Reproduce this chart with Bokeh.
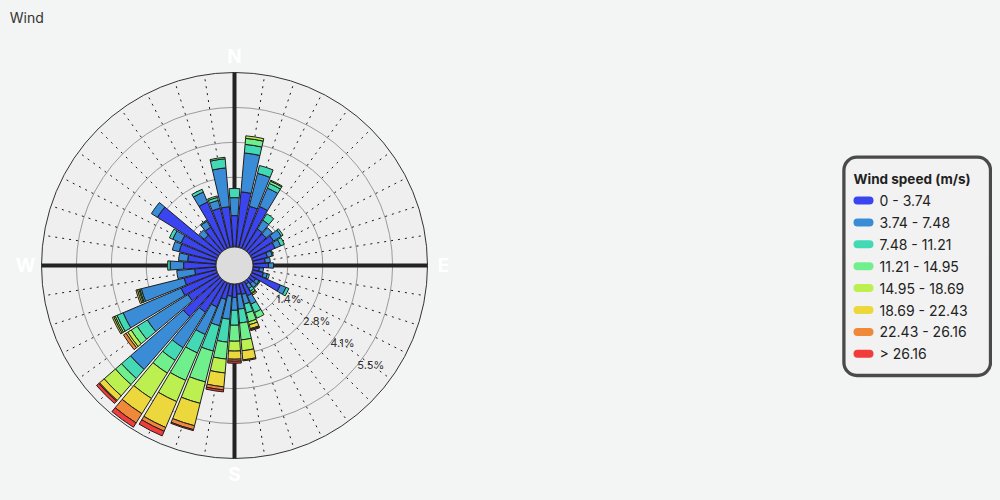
import numpy as np
from bokeh.plotting import figure
from bokeh.models import Range1d, BoxAnnotation, ColumnDataSource
from bokeh.core.properties import value
from bokeh.embed import file_html
from bokeh.resources import INLINE

# ---------------- data ----------------
directions = [0, 9, 18, 27, 36, 45, 54, 63, 72, 81,
              90, 99, 108, 117, 126, 135, 144, 153, 162, 171,
              180, 189, 198, 207, 216, 225, 234, 243, 252, 261,
              270, 279, 288, 297, 306, 315, 324, 333, 342, 351]

speed_bins = ["0 - 3.74", "3.74 - 7.48", "7.48 - 11.21", "11.21 - 14.95",
              "14.95 - 18.69", "18.69 - 22.43", "22.43 - 26.16", "> 26.16"]
bin_colors = ["#3a45f0", "#3a8cd6", "#42d9b4", "#70f08c",
              "#bcf050", "#ecd83c", "#f0883a", "#f23c3c"]

# frequency (%) per direction, one list per speed bin
freq_0_374 = [1.24, 2.19, 1.68, 1.80, 0.97, 0.93, 1.09, 1.01, 0.61, 0.49,
              0.61, 0.26, 0.45, 1.24, 0.26, 0.22, 0.14, 0.57, 0.45, 0.41,
              0.53, 0.49, 0.65, 1.05, 1.44, 1.95, 1.44, 1.56, 1.32, 0.85,
              1.28, 1.13, 1.52, 1.56, 2.86, 0.85, 1.05, 1.99, 1.60, 1.60]
freq_374_748 = [0.71, 1.54, 1.34, 0.79, 0.41, 0.32, 0.36, 0.24, 0.20, 0.20,
                0.20, 0.16, 0.16, 0.24, 0.16, 0.20, 0.20, 0.36, 0.39, 0.59,
                0.51, 0.91, 1.07, 1.18, 1.66, 2.76, 1.89, 2.49, 1.74, 0.71,
                0.53, 0.36, 0.28, 0.36, 0.28, 0.28, 0.28, 0.43, 0.32, 1.54]
freq_748_1121 = [0.36, 0.34, 0.32, 0.20, 0.30, 0.00, 0.08, 0.16, 0.04, 0.00,
                 0.00, 0.00, 0.08, 0.12, 0.04, 0.04, 0.12, 0.36, 0.36, 0.55,
                 0.59, 0.91, 1.03, 0.79, 0.59, 0.47, 0.47, 0.26, 0.06, 0.00,
                 0.10, 0.00, 0.00, 0.14, 0.00, 0.00, 0.04, 0.12, 0.12, 0.36]
freq_1121_1495 = [0.00, 0.24, 0.00, 0.10, 0.00, 0.00, 0.00, 0.00, 0.00, 0.00,
                  0.00, 0.00, 0.00, 0.00, 0.00, 0.00, 0.08, 0.24, 0.36, 0.67,
                  0.63, 0.67, 1.26, 1.18, 0.59, 0.32, 0.28, 0.08, 0.04, 0.00,
                  0.00, 0.00, 0.00, 0.00, 0.00, 0.00, 0.00, 0.00, 0.06, 0.06]
freq_1495_1869 = [0.00, 0.10, 0.00, 0.04, 0.00, 0.00, 0.00, 0.00, 0.00, 0.00,
                  0.00, 0.00, 0.00, 0.00, 0.00, 0.00, 0.04, 0.00, 0.12, 0.43,
                  0.39, 0.55, 0.87, 0.91, 1.18, 0.59, 0.16, 0.06, 0.06, 0.00,
                  0.00, 0.00, 0.00, 0.00, 0.00, 0.00, 0.00, 0.00, 0.00, 0.00]
freq_1869_2243 = [0.00, 0.00, 0.00, 0.00, 0.00, 0.00, 0.00, 0.00, 0.00, 0.00,
                  0.00, 0.00, 0.00, 0.00, 0.00, 0.00, 0.06, 0.00, 0.16, 0.36,
                  0.32, 0.55, 0.91, 1.11, 0.71, 0.24, 0.08, 0.06, 0.06, 0.00,
                  0.00, 0.00, 0.00, 0.00, 0.00, 0.00, 0.00, 0.00, 0.00, 0.00]
freq_2243_2616 = [0.00, 0.00, 0.00, 0.00, 0.00, 0.00, 0.00, 0.00, 0.00, 0.00,
                  0.00, 0.00, 0.00, 0.00, 0.00, 0.00, 0.00, 0.00, 0.04, 0.04,
                  0.08, 0.12, 0.16, 0.16, 0.43, 0.04, 0.12, 0.00, 0.00, 0.00,
                  0.00, 0.00, 0.00, 0.00, 0.00, 0.00, 0.00, 0.00, 0.00, 0.00]
freq_gt_2616 = [0.00, 0.00, 0.00, 0.00, 0.00, 0.00, 0.00, 0.00, 0.00, 0.00,
                0.00, 0.00, 0.00, 0.00, 0.00, 0.00, 0.00, 0.00, 0.04, 0.00,
                0.08, 0.08, 0.04, 0.20, 0.20, 0.12, 0.00, 0.00, 0.00, 0.00,
                0.00, 0.00, 0.00, 0.00, 0.00, 0.00, 0.00, 0.00, 0.00, 0.00]
freq_series = [freq_0_374, freq_374_748, freq_748_1121, freq_1121_1495,
               freq_1495_1869, freq_1869_2243, freq_2243_2616, freq_gt_2616]

radial_max = 6.89
radial_ticks = [1.378, 2.756, 4.134, 5.512]
cardinal_labels = ["N", "E", "S", "W"]
cardinal_dirs = [0, 90, 180, 270]
title_text = "Wind"
legend_title = "Wind speed (m/s)"

# ---------------- geometry / style ----------------
BG = "#f3f5f4"
POLAR_BG = "#efefef"
W, H = 984, 484
CX, CY = 226, 257          # polar centre inside the figure (px from left / top)
HUB = 18.5
OUTER = 193.0
SCALE = (OUTER - HUB) / radial_max
BAR_W = 8.0                # degrees
FONT = value("Inter")

p = figure(width=W, height=H,
           x_range=Range1d(-CX, W - CX), y_range=Range1d(CY - H, CY),
           output_backend="svg", toolbar_location=None,
           x_axis_type=None, y_axis_type=None, min_border=0,
           background_fill_color=BG, border_fill_color=BG,
           outline_line_color=None)

# polar disc
p.circle(x=[0], y=[0], radius=[OUTER], fill_color=POLAR_BG,
         line_color="#333333", line_width=1)

# grid circles
grid_r = [HUB + SCALE * t for t in radial_ticks]
p.circle(x=[0] * len(grid_r), y=[0] * len(grid_r), radius=grid_r,
         fill_color=None, line_color="#9a9a9a", line_width=1)

# dotted radial lines
minor = np.array([d for d in directions if d % 90 != 0], float)
th = np.radians(90 - minor)
p.segment(x0=HUB * np.cos(th), y0=HUB * np.sin(th),
          x1=OUTER * np.cos(th), y1=OUTER * np.sin(th),
          line_color="#1a1a1a", line_dash="2 5", line_width=1)

# cardinal axes
thc = np.radians(90 - np.array(cardinal_dirs, float))
p.segment(x0=np.zeros(4), y0=np.zeros(4),
          x1=OUTER * np.cos(thc), y1=OUTER * np.sin(thc),
          line_color="#222222", line_width=4)

# stacked bars
theta = np.radians(90 - np.array(directions, float))
half = np.radians(BAR_W / 2)
cum = np.zeros(len(directions))
for label, color, freq in zip(speed_bins, bin_colors, freq_series):
    f = np.array(freq, float)
    inner = HUB + SCALE * cum
    outer = HUB + SCALE * (cum + f)
    m = f > 0
    src = ColumnDataSource(dict(inner=inner[m], outer=outer[m],
                                start=(theta - half)[m], end=(theta + half)[m]))
    p.annular_wedge(x=0, y=0, inner_radius="inner", outer_radius="outer",
                    start_angle="start", end_angle="end", source=src,
                    fill_color=color, line_color="#1e1e1e", line_width=1)
    cum += f

# hub
p.circle(x=[0], y=[0], radius=[HUB], fill_color="#dcdcdc",
         line_color="#333333", line_width=1)

# radial tick labels
la = np.radians(-39.0)
p.text(x=[r * np.cos(la) for r in grid_r], y=[r * np.sin(la) for r in grid_r],
       text=[f"{t:.1f}%" for t in radial_ticks],
       text_align="left", text_baseline="middle",
       text_font=FONT, text_font_size="11px", text_color="#333333")

# cardinal labels
CR = 209
p.text(x=CR * np.cos(thc), y=CR * np.sin(thc), text=cardinal_labels,
       text_align="center", text_baseline="middle",
       text_font=FONT, text_font_size="19px", text_font_style="bold",
       text_color="#ffffff")

# title
p.text(x=[-224.7], y=[248.0], text=[title_text], text_align="left",
       text_baseline="middle", text_font=FONT, text_font_size="14px",
       text_color="#333333")

# legend
frame = BoxAnnotation(left=609.4, right=756.0, top=108.3, bottom=-110.0,
                      fill_color="#f2f2f2", fill_alpha=1.0,
                      line_color="#4a4a4a", line_alpha=1.0, line_width=3.3,
                      border_radius=13, level="underlay")
p.add_layout(frame)
p.text(x=[619.0], y=[87.0], text=[legend_title], text_align="left",
       text_baseline="middle", text_font=FONT, text_font_size="13.5px",
       text_font_style="bold", text_color="#222222")
row_y = [65.0 - 21.9 * i for i in range(len(speed_bins))]
for yc, color in zip(row_y, bin_colors):
    p.add_layout(BoxAnnotation(left=619.0, right=639.0, bottom=yc - 4.0, top=yc + 4.0,
                               fill_color=color, fill_alpha=1.0, line_color=None,
                               border_radius=4))
p.text(x=[645.0] * len(speed_bins), y=row_y, text=speed_bins,
       text_align="left", text_baseline="middle", text_font=FONT,
       text_font_size="14px", text_color="#222222")

html = file_html(p, INLINE, title="Wind")
html = html.replace(
    "</head>",
    f"<style>html,body{{background:{BG} !important;}} body{{padding:8px !important;"
    f" box-sizing:border-box !important; overflow:hidden;}}</style></head>", 1)
open("out.html", "w").write(html)
